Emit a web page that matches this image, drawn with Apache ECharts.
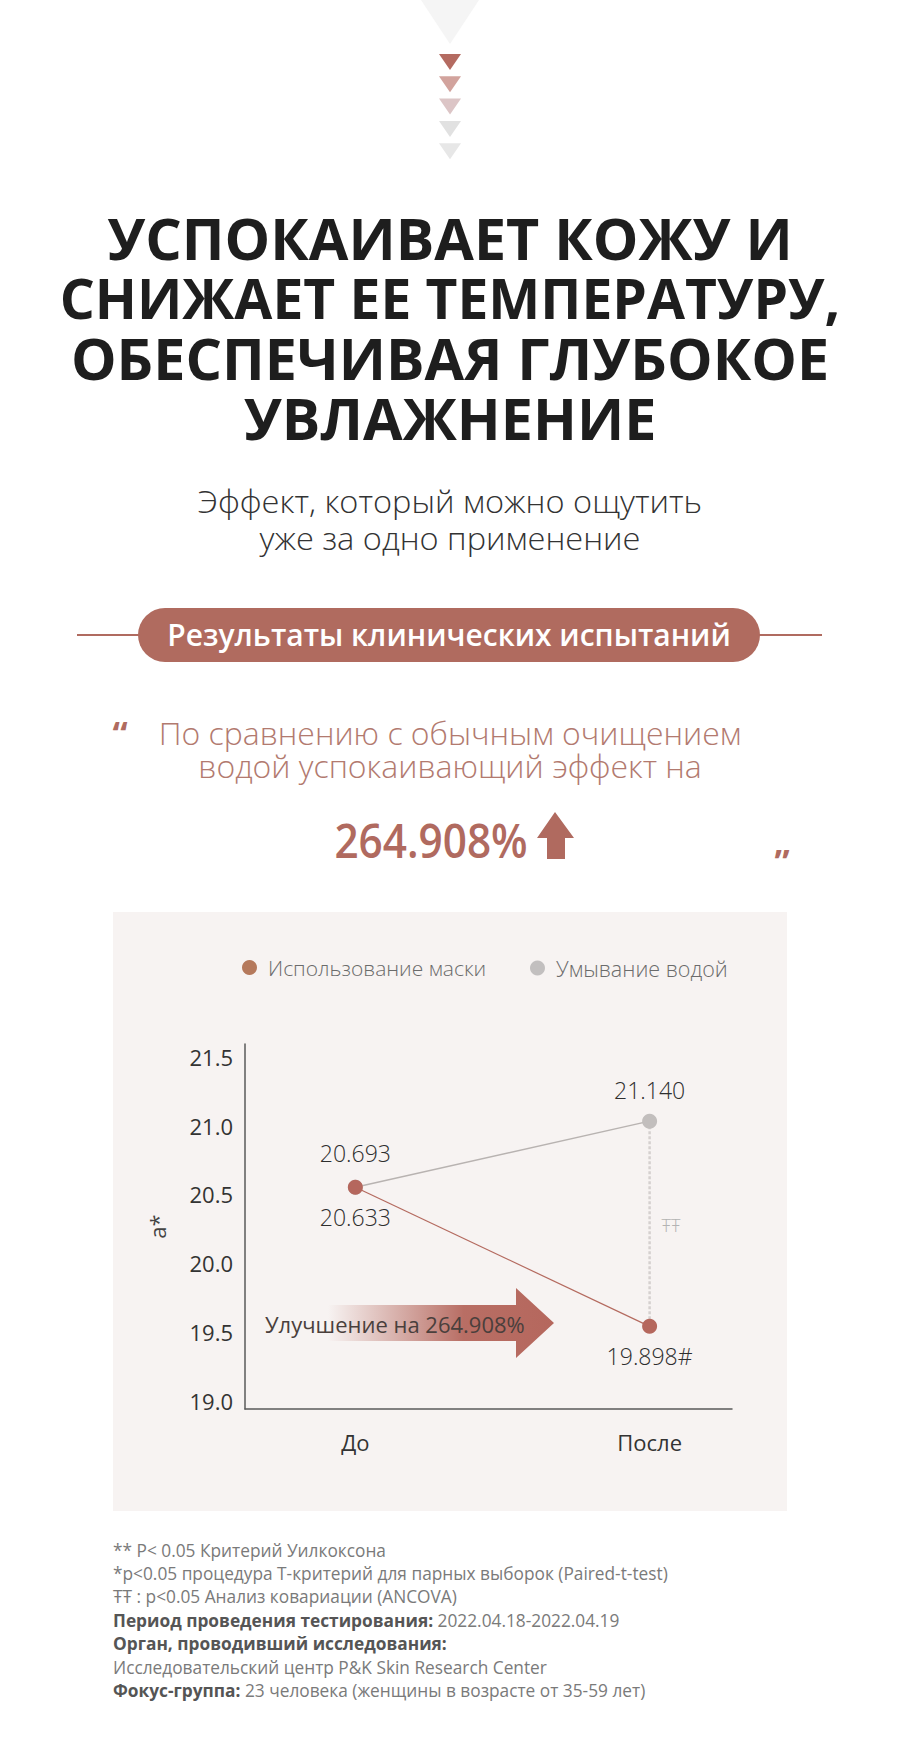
<!DOCTYPE html>
<html>
<head>
<meta charset="utf-8">
<title>Результаты клинических испытаний</title>
<script src="https://cdn.jsdelivr.net/npm/echarts@6/dist/echarts.min.js"></script>
<style>
  html, body { margin: 0; padding: 0; background: #fff; }
  #main { width: 900px; height: 1738px; }
</style>
</head>
<body>
<div id="main"></div>
<script>
// values (positions on the a* axis), printed labels kept apart
const categories = ['До', 'После'];
const seriesNames = ['Использование маски', 'Умывание водой'];
const maskValues = [20.61, 19.60];
const waterValues = [20.61, 21.09];
const maskLabels = ['20.633', '19.898#'];
const waterLabels = ['20.693', '21.140'];
const yTicks = [19.0, 19.5, 20.0, 20.5, 21.0, 21.5];

const FONT = '"Open Sans", "Noto Sans", sans-serif';
const BROWN = '#b5675d';

const titleLines = ['УСПОКАИВАЕТ КОЖУ И', 'СНИЖАЕТ ЕЕ ТЕМПЕРАТУРУ,', 'ОБЕСПЕЧИВАЯ ГЛУБОКОЕ', 'УВЛАЖНЕНИЕ'];
const subtitleLines = ['Эффект, который можно ощутить', 'уже за одно применение'];
const quoteLines = ['По сравнению с обычным очищением', 'водой успокаивающий эффект на'];
const footnotes = [
  '{n|** P< 0.05 Критерий Уилкоксона}',
  '{n|*p<0.05 процедура T-критерий для парных выборок (Paired-t-test)}',
  '{n|ŦŦ : p<0.05 Анализ ковариации (ANCOVA)}',
  '{b|Период проведения тестирования:}{n| 2022.04.18-2022.04.19}',
  '{b|Орган, проводивший исследования:}',
  '{n|Исследовательский центр P&K Skin Research Center}',
  '{b|Фокус-группа:}{n| 23 человека (женщины в возрасте от 35-59 лет)}'
];

function text(x, y, str, size, color, weight, extra) {
  const el = {
    type: 'text', x: x, y: y, z: 10,
    style: {
      text: str, fill: color, fontSize: size, fontWeight: weight || 'normal',
      fontFamily: FONT, align: 'center', verticalAlign: 'middle'
    }
  };
  if (extra) {
    Object.assign(el.style, extra.style || {});
    if (extra.scaleX) el.scaleX = extra.scaleX;
  }
  return el;
}

function block(x, y, lines, size, lh, color, weight, scaleX) {
  return {
    type: 'text', x: x, y: y, z: 10, scaleX: scaleX,
    style: {
      text: lines.map(t => '{l|' + t + '}').join('\n'),
      align: 'center', verticalAlign: 'middle', fontFamily: FONT,
      rich: { l: { fontSize: size, lineHeight: lh, fill: color, fontWeight: weight, fontFamily: FONT } }
    }
  };
}

const graphics = [];

// chart panel
graphics.push({ type: 'rect', z: -10, silent: true, shape: { x: 113, y: 912, width: 674, height: 599 }, style: { fill: '#f7f3f2' } });

// top triangles
graphics.push({ type: 'polygon', shape: { points: [[421, 0], [479, 0], [450, 44]] }, style: { fill: '#f5f5f5' } });
const triColors = ['#b46b61', '#d2a39d', '#dcc5c6', '#e1e1e1', '#e7e7e7'];
triColors.forEach((c, i) => {
  const top = 54 + i * 22.3;
  graphics.push({ type: 'polygon', shape: { points: [[439, top], [461, top], [450, top + 16]] }, style: { fill: c } });
});

// title (line 2 set a touch smaller so all four lines keep the reference widths)
const titleRich = {
  t: { fontSize: 58, lineHeight: 60, fontWeight: 'bold', fill: '#1e1e1e', fontFamily: FONT },
  s: { fontSize: 55.7, lineHeight: 60, fontWeight: 'bold', fill: '#1e1e1e', fontFamily: FONT }
};
graphics.push({
  type: 'text', x: 450, y: 327, z: 10, scaleX: 0.99,
  style: {
    text: titleLines.map((t, i) => (i === 1 ? '{s|' : '{t|') + t + '}').join('\n'),
    rich: titleRich, align: 'center', verticalAlign: 'middle', fontFamily: FONT
  }
});
graphics.push(block(450, 519, subtitleLines, 32, 37, '#333333', 300, 1.018));

// banner
graphics.push({ type: 'line', shape: { x1: 77, y1: 635, x2: 822, y2: 635 }, style: { stroke: '#b06b60', lineWidth: 2 } });
graphics.push({ type: 'rect', shape: { x: 138, y: 608, width: 622, height: 54, r: 27 }, style: { fill: '#b06b5f' } });
graphics.push(text(449, 634, 'Результаты клинических испытаний', 30, '#ffffff', 600));

// quote
graphics.push(text(120, 733, '\u201C', 34, '#b06b60', 'bold'));
graphics.push(block(450, 749, quoteLines, 31.5, 33, '#b27a6f', 300, 1.015));
graphics.push(text(431, 840, '264.908%', 47, '#b06a5f', 600, { scaleX: 0.9 }));
graphics.push({ type: 'polygon', shape: { points: [[555, 812], [574, 838], [565, 838], [565, 859], [547, 859], [547, 838], [537, 838]] }, style: { fill: '#b06a5f' } });
graphics.push(text(782, 861, '\u201D', 34, '#b06b60', 'bold'));

// improvement arrow inside the chart
graphics.push({
  type: 'polygon', z: 1,
  shape: { points: [[328, 1305], [516, 1305], [516, 1288], [554, 1323], [516, 1358], [516, 1341], [328, 1341]] },
  style: {
    fill: {
      type: 'linear', x: 0, y: 0, x2: 1, y2: 0,
      colorStops: [
        { offset: 0, color: 'rgba(181,103,93,0)' },
        { offset: 0.35, color: 'rgba(181,103,93,0.55)' },
        { offset: 0.6, color: 'rgba(181,103,93,0.95)' },
        { offset: 1, color: 'rgba(181,103,93,1)' }
      ]
    }
  }
});
graphics.push(text(265, 1324, 'Улучшение на 264.908%', 22, '#4a3f3c', 'normal', { style: { align: 'left' } }));
graphics.push(text(671, 1225, 'ŦŦ', 18, '#b3b3b3', 300));

// footnotes
footnotes.forEach((t, i) => {
  graphics.push({
    type: 'text', x: 113, y: 1550 + i * 23.4, z: 10,
    style: {
      text: t, align: 'left', verticalAlign: 'middle', fontFamily: FONT,
      rich: {
        n: { fontSize: 17.3, fill: '#7a7a7a', fontFamily: FONT },
        b: { fontSize: 17.3, fill: '#555555', fontWeight: 'bold', fontFamily: FONT }
      }
    }
  });
});

const chart = echarts.init(document.getElementById('main'), null, { renderer: 'svg', width: 900, height: 1738 });

function points(values, labels, pos, dists) {
  return values.map((v, i) => ({
    value: [i, v],
    label: { show: true, position: pos, distance: dists[i], formatter: labels[i] }
  }));
}

const labelStyle = { fontSize: 23, color: '#2e2e2e', fontFamily: FONT, fontWeight: 300 };
const legendBase = { top: 952, icon: 'circle', itemWidth: 15, itemHeight: 15 };

chart.setOption({
  backgroundColor: '#ffffff',
  animation: false,
  textStyle: { fontFamily: FONT },
  legend: [
    Object.assign({
      left: 237,
      data: [{ name: seriesNames[0], itemStyle: { color: '#b5795c' } }],
      textStyle: { fontSize: 21, color: '#6b6b6b', fontWeight: 300, fontFamily: FONT, padding: [0, 0, 0, 6] }
    }, legendBase),
    Object.assign({
      left: 525,
      data: [{ name: seriesNames[1], itemStyle: { color: '#c2bfbf' } }],
      textStyle: { fontSize: 21.5, color: '#6b6b6b', fontWeight: 300, fontFamily: FONT, padding: [0, 0, 0, 6] }
    }, legendBase)
  ],
  grid: { left: 245, top: 1044, width: 487, height: 365 },
  xAxis: {
    type: 'value', min: -0.375, max: 1.28,
    axisLine: { show: true, onZero: false, lineStyle: { color: '#5a5a5a', width: 1.5 } },
    axisTick: { show: false },
    splitLine: { show: false },
    axisLabel: {
      customValues: [0, 1],
      formatter: v => categories[Math.round(v)],
      fontSize: 22, color: '#333', fontFamily: FONT, margin: 22
    }
  },
  yAxis: {
    type: 'value', min: 19, max: 21.65,
    name: 'a*', nameLocation: 'middle', nameGap: 77, nameRotate: 90,
    nameTextStyle: { fontSize: 22, color: '#444', fontFamily: FONT },
    axisLine: { show: true, onZero: false, lineStyle: { color: '#5a5a5a', width: 1.5 } },
    axisTick: { show: false },
    splitLine: { show: false },
    axisLabel: {
      customValues: yTicks,
      formatter: v => v.toFixed(1),
      fontSize: 22, color: '#333', fontFamily: FONT, margin: 12,
      verticalAlign: 'bottom', lineHeight: 16
    }
  },
  series: [
    {
      name: 'connector', type: 'line', z: 1, silent: true, symbol: 'none',
      data: [[1, waterValues[1]], [1, maskValues[1]]],
      lineStyle: { color: '#d5d0cf', width: 2.5, type: [3, 2] }
    },
    {
      name: seriesNames[1], type: 'line', z: 2,
      symbol: 'circle', symbolSize: 15,
      data: points(waterValues, waterLabels, 'top', [15, 12]),
      lineStyle: { color: '#b8b3b1', width: 1.5 },
      itemStyle: { color: '#c2bebd' },
      label: labelStyle
    },
    {
      name: seriesNames[0], type: 'line', z: 3,
      symbol: 'circle', symbolSize: 15,
      data: points(maskValues, maskLabels, 'bottom', [11, 11]),
      lineStyle: { color: '#b46a5f', width: 1.2 },
      itemStyle: { color: BROWN },
      label: labelStyle
    }
  ],
  graphic: { elements: graphics }
});
</script>
</body>
</html>
